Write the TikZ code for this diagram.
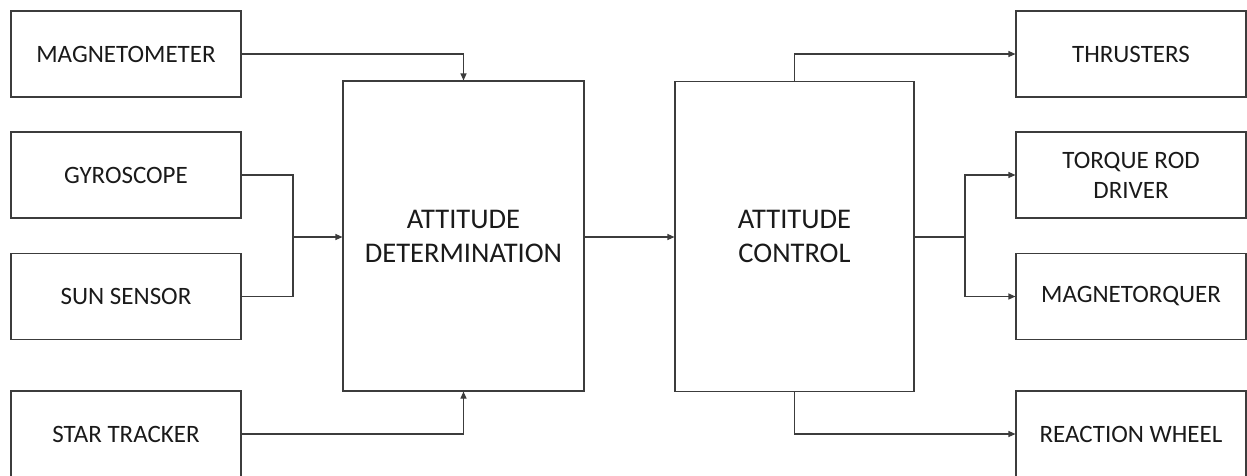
\documentclass[tikz,border=0pt]{standalone}
\usepackage{fontspec}
\setmainfont{Carlito}
\usetikzlibrary{arrows.meta}
\definecolor{edge}{HTML}{3C3C3C}
\definecolor{ink}{HTML}{1A1A1A}
\begin{document}
\begin{tikzpicture}[x=1pt,y=-1pt,
  box/.style={draw=edge, line width=1.1pt, minimum width=230pt, minimum height=86pt,
              inner sep=0pt, text=ink, align=center, font=\fontsize{25}{30}\selectfont},
  bigbox/.style={draw=edge, line width=1.1pt, minimum height=310pt,
              inner sep=0pt, text=ink, align=center, font=\fontsize{28.5}{34}\selectfont},
  link/.style={draw=edge, line width=1.1pt},
  arr/.style={link, -{Triangle[length=7pt,width=6pt]}}]
\useasboundingbox (0,0) rectangle (1247,475);
\clip (0,0) rectangle (1247,475);

% sensors
\node[box] (mag)  at (126,54)    {MAGNETOMETER};
\node[box] (gyro) at (126,175)   {GYROSCOPE};
\node[box] (sun)  at (126,296.5) {SUN SENSOR};
\node[box] (star) at (126,434)   {STAR TRACKER};

% processing blocks
\node[bigbox, minimum width=241pt] (ad) at (463.5,236) {ATTITUDE\\DETERMINATION};
\node[bigbox, minimum width=239pt] (ac) at (794.5,236.5) {ATTITUDE\\CONTROL};

% actuators
\node[box] (thr) at (1131,54)    {THRUSTERS};
\node[box] (trd) at (1131,175)   {TORQUE ROD\\DRIVER};
\node[box] (mtq) at (1131,296.5) {MAGNETORQUER};
\node[box] (rw)  at (1131,434)   {REACTION WHEEL};

\coordinate (jin)  at (293,237);
\coordinate (jout) at (965,237);

% sensor inputs
\draw[arr] (mag.east) -| (ad.north);
\draw[link] (gyro.east) -| (jin);
\draw[link] (sun.east) -| (jin);
\draw[arr] (jin) -- (ad.west |- jin);
\draw[arr] (star.east) -| (ad.south);

% determination to control
\draw[arr] (ad.east |- jin) -- (ac.west |- jin);

% actuator outputs
\draw[arr] (ac.north) |- (thr.west);
\draw[link] (ac.east |- jout) -- (jout);
\draw[arr] (jout) |- (trd.west);
\draw[arr] (jout) |- (mtq.west);
\draw[arr] (ac.south) |- (rw.west);
\end{tikzpicture}
\end{document}
